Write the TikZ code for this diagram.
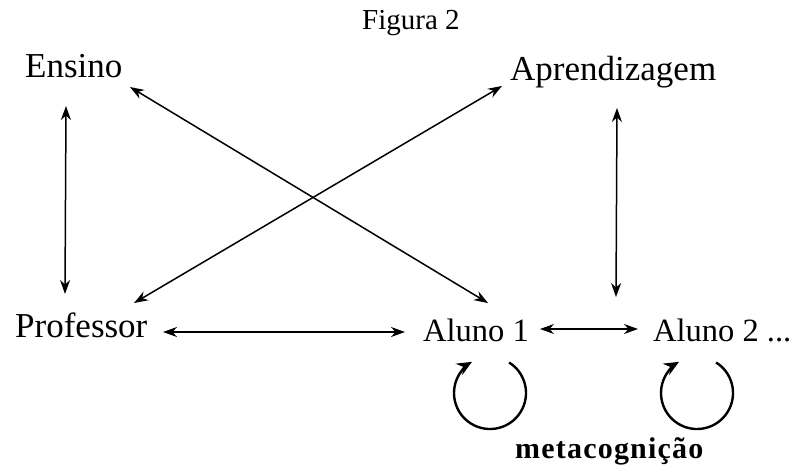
\documentclass[tikz,border=0pt]{standalone}
\usepackage{fontspec}
\setmainfont{Liberation Serif}
\usetikzlibrary{arrows.meta,calc}
\begin{document}
\begin{tikzpicture}[x=1pt,y=-1pt,
  lbl/.style={font=\fontsize{35}{40}\selectfont, inner sep=0pt, anchor=base west},
  albl/.style={font=\fontsize{32.5}{38}\selectfont, inner sep=0pt, anchor=base west},
  ttl/.style={font=\fontsize{29}{32}\selectfont, inner sep=0pt, anchor=base west},
  mc/.style={font=\fontsize{30}{34}\selectfont\bfseries\addfontfeature{LetterSpace=4}, inner sep=0pt, anchor=base west},
  dbl/.style={{Stealth[length=14pt,width=10pt]}-{Stealth[length=14pt,width=10pt]}, line width=1.5pt},
  lp/.style={-{Stealth[length=15pt,width=13pt]}, line width=2.4pt}]
\useasboundingbox[fill=white] (0,0) rectangle (799,472);
\node[ttl] (fig) at (362,29) {Figura 2};
\node[lbl] (ensino) at (25,77) {Ensino};
\node[lbl] (aprend) at (510,80) {Aprendizagem};
\node[lbl] (prof) at (15,337) {Professor};
\node[albl] (aluno1) at (423,341) {Aluno 1};
\node[albl] (aluno2) at (653,341) {Aluno 2 ...};
\node[mc] (meta) at (515,458) {metacognição};
% vertical arrows
\draw[dbl] ($(ensino.base west)+(41,29)$) -- ($(prof.base west)+(50,-43)$);
\draw[dbl] ($(aprend.base west)+(107,28)$) -- ($(aluno2.base west)+(-37,-44)$);
% diagonals
\draw[dbl] ($(ensino.base west)+(105,10)$) -- ($(aluno1.base west)+(65,-38)$);
\draw[dbl] ($(aprend.base west)+(-8,6)$) -- ($(prof.base west)+(119,-34)$);
% horizontals
\draw[dbl] ($(prof.base west)+(148,-5)$) -- ($(aluno1.base west)+(-18,-9)$);
\draw[dbl] ($(aluno1.base west)+(117,-12)$) -- ($(aluno2.base west)+(-15,-12)$);
% loops
\draw[lp] ($(aluno1.base west)+(67,52)$) ++(-58:36) arc[start angle=-58, end angle=240, radius=36];
\draw[lp] ($(aluno2.base west)+(44,52)$) ++(-58:36) arc[start angle=-58, end angle=240, radius=36];
\end{tikzpicture}
\end{document}
